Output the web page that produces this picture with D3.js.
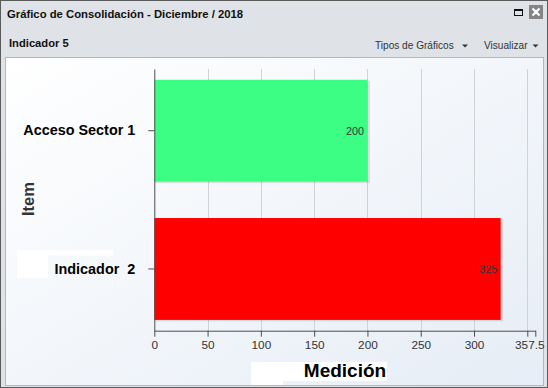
<!DOCTYPE html>
<html>
<head>
<meta charset="utf-8">
<script src="https://cdn.jsdelivr.net/npm/d3@7"></script>
<style>
  body { margin: 0; background: #fff; }
  svg { display: block; font-family: "Liberation Sans", Arial, sans-serif; }
</style>
</head>
<body>
<div id="chart"></div>
<script>
const width = 548;
const height = 388;

// data
const categories = ["Acceso Sector 1", "Indicador  2"];
const values = [200, 325];
const barColors = ["#3cfe84", "#ff0000"];
const xTicks = [0, 50, 100, 150, 200, 250, 300, 350];
const xMax = 357.5;

const svg = d3.select("#chart")
    .append("svg")
    .attr("width", width)
    .attr("height", height);

const defs = svg.append("defs");
const grad = defs.append("linearGradient")
    .attr("id", "panelGrad")
    .attr("x1", "0%").attr("y1", "0%")
    .attr("x2", "100%").attr("y2", "100%");
grad.append("stop").attr("offset", "0%").attr("stop-color", "#ffffff");
grad.append("stop").attr("offset", "100%").attr("stop-color", "#e6edf6");

// window frame
svg.append("rect")
    .attr("x", 0.5).attr("y", 0.5)
    .attr("width", width - 1).attr("height", height - 1)
    .attr("fill", "#dfe2e6")
    .attr("stroke", "#5a5a5a");

svg.append("text")
    .attr("x", 7).attr("y", 18)
    .attr("font-size", "11.3px")
    .attr("font-weight", "bold")
    .attr("fill", "#111")
    .text("Gráfico de Consolidación - Diciembre / 2018");

// maximize / close icons
svg.append("rect")
    .attr("x", 514.5).attr("y", 9.5)
    .attr("width", 8).attr("height", 6)
    .attr("fill", "none")
    .attr("stroke", "#111")
    .attr("stroke-width", 1);
svg.append("line")
    .attr("x1", 514).attr("x2", 523).attr("y1", 10.5).attr("y2", 10.5)
    .attr("stroke", "#111").attr("stroke-width", 1);
svg.append("rect")
    .attr("x", 529).attr("y", 5)
    .attr("width", 14).attr("height", 14)
    .attr("fill", "#858585");
svg.append("path")
    .attr("d", "M532.5,8.5 L539.5,15.5 M539.5,8.5 L532.5,15.5")
    .attr("stroke", "#fff")
    .attr("stroke-width", 2.2);

svg.append("text")
    .attr("x", 9).attr("y", 47)
    .attr("font-size", "11.2px")
    .attr("font-weight", "bold")
    .attr("fill", "#111")
    .text("Indicador 5");

const menus = [
    { label: "Tipos de Gráficos", x: 375, caret: 465 },
    { label: "Visualizar", x: 484, caret: 535.5 }
];
menus.forEach(m => {
    svg.append("text")
        .attr("x", m.x).attr("y", 49)
        .attr("font-size", "10.1px")
        .attr("fill", "#333")
        .text(m.label);
    svg.append("path")
        .attr("d", `M${m.caret - 3},44.5 L${m.caret + 3},44.5 L${m.caret},47.5 Z`)
        .attr("fill", "#333");
});

// chart panel
svg.append("rect")
    .attr("x", 5.5).attr("y", 57.5)
    .attr("width", 538).attr("height", 328)
    .attr("fill", "url(#panelGrad)")
    .attr("stroke", "#b4b7bb");

// plot area
const plotLeft = 154.3, plotRight = 535.3, plotTop = 69, plotBottom = 330.7;

const x = d3.scaleLinear()
    .domain([0, xMax])
    .range([plotLeft, plotRight]);

const y = d3.scaleBand()
    .domain(categories)
    .range([plotTop, plotBottom])
    .paddingInner(0.263)
    .paddingOuter(0.078);

// grid
svg.append("g")
    .selectAll("line")
    .data(xTicks.slice(1))
    .enter()
    .append("line")
    .attr("x1", d => Math.round(x(d)) + 0.5)
    .attr("x2", d => Math.round(x(d)) + 0.5)
    .attr("y1", plotTop)
    .attr("y2", plotBottom)
    .attr("stroke", "#cfd2d6")
    .attr("stroke-width", 1);

// bar shadows
svg.append("g")
    .selectAll("rect")
    .data(values)
    .enter()
    .append("rect")
    .attr("x", x(0) + 1)
    .attr("y", (d, i) => y(categories[i]) + 1.5)
    .attr("width", d => x(d) - x(0) + 1.5)
    .attr("height", y.bandwidth())
    .attr("fill", "#000")
    .attr("opacity", 0.1);

// bars
svg.append("g")
    .selectAll("rect")
    .data(values)
    .enter()
    .append("rect")
    .attr("x", x(0))
    .attr("y", (d, i) => y(categories[i]))
    .attr("width", d => x(d) - x(0))
    .attr("height", y.bandwidth())
    .attr("fill", (d, i) => barColors[i]);

// value labels
svg.append("g")
    .selectAll("text")
    .data(values)
    .enter()
    .append("text")
    .attr("x", d => x(d) - 3.5)
    .attr("y", (d, i) => y(categories[i]) + y.bandwidth() / 2 + 4)
    .attr("text-anchor", "end")
    .attr("font-size", "10.8px")
    .attr("fill", "#333")
    .text(d => d);

// white patches behind some labels, as in the original
svg.append("rect").attr("x", 17).attr("y", 250).attr("width", 31).attr("height", 28).attr("fill", "#fff");
svg.append("rect").attr("x", 17).attr("y", 250).attr("width", 96).attr("height", 5.5).attr("fill", "#fff");
svg.append("rect").attr("x", 251).attr("y", 362).attr("width", 32).attr("height", 23).attr("fill", "#fff");
svg.append("rect").attr("x", 251).attr("y", 362).attr("width", 136).attr("height", 19).attr("fill", "#fff");

// x axis
const xAxis = svg.append("g")
    .attr("transform", `translate(0,${plotBottom})`)
    .call(d3.axisBottom(x)
        .tickValues(xTicks.concat([xMax]))
        .tickSize(6)
        .tickSizeOuter(0)
        .tickFormat(d => (d === 350 ? "" : d)));
xAxis.select(".domain").attr("stroke", "#4d4d4d");
xAxis.selectAll(".tick line").attr("stroke", "#4d4d4d");
xAxis.selectAll(".tick text")
    .attr("font-size", "11.8px")
    .attr("font-family", "Liberation Sans, Arial, sans-serif")
    .attr("fill", "#333")
    .attr("y", 10)
    .attr("dx", d => (d === xMax ? "-6" : "0"));

// y axis
const yAxis = svg.append("g")
    .attr("transform", `translate(${plotLeft},0)`)
    .call(d3.axisLeft(y)
        .tickSize(6)
        .tickPadding(13)
        .tickSizeOuter(0));
yAxis.select(".domain").attr("stroke", "#4d4d4d");
yAxis.selectAll(".tick line").attr("stroke", "#4d4d4d");
yAxis.selectAll(".tick text")
    .attr("font-size", "14.4px")
    .attr("font-weight", "bold")
    .attr("font-family", "Liberation Sans, Arial, sans-serif")
    .attr("fill", "#000")
    .style("white-space", "pre");

// axis titles
svg.append("text")
    .attr("transform", "translate(33.5,199) rotate(-90)")
    .attr("text-anchor", "middle")
    .attr("font-size", "16.5px")
    .attr("font-weight", "bold")
    .attr("fill", "#333")
    .text("Item");

svg.append("text")
    .attr("x", 345).attr("y", 377)
    .attr("text-anchor", "middle")
    .attr("font-size", "19px")
    .attr("font-weight", "bold")
    .attr("fill", "#000")
    .text("Medición");
</script>
</body>
</html>
